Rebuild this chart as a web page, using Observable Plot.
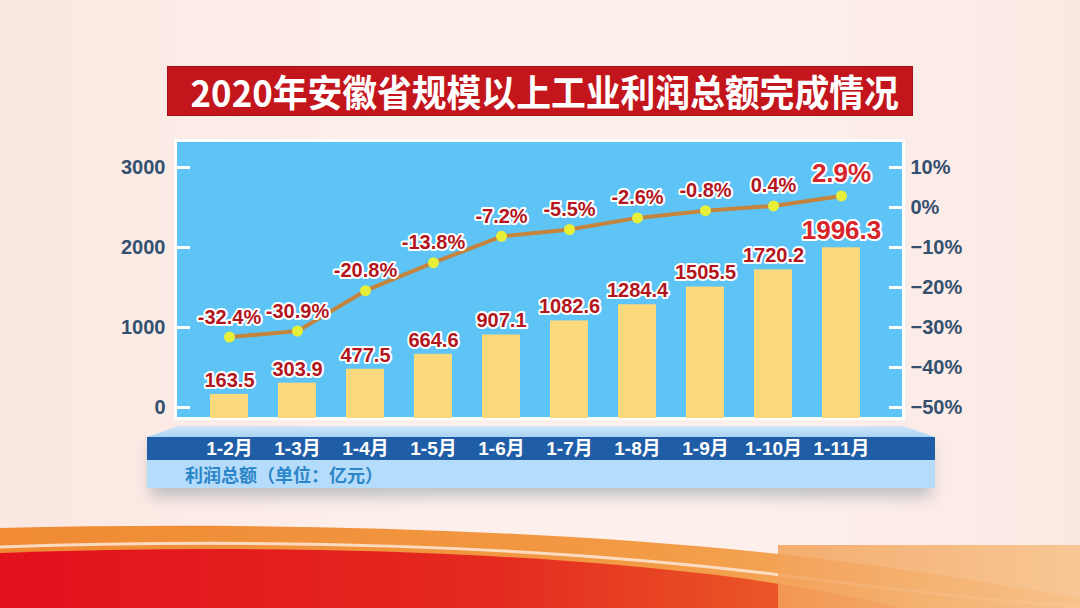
<!DOCTYPE html>
<html>
<head>
<meta charset="utf-8">
<script src="https://cdn.jsdelivr.net/npm/d3@7"></script>
<script src="https://cdn.jsdelivr.net/npm/@observablehq/plot@0.6"></script>
<style>
  html, body { margin: 0; padding: 0; }
  body { width: 1080px; height: 608px; overflow: hidden; }
  #stage { position: relative; width: 1080px; height: 608px;
    background: linear-gradient(90deg, #fbe7e1 0%, #fdf0ec 40%, #fdf0ec 70%, #fbe8e3 100%);
    font-family: "Liberation Sans", "Noto Sans CJK SC", sans-serif; }
  #wave { position: absolute; left: 0; top: 0; }
  #title { position: absolute; left: 168px; top: 67px; width: 744px; height: 48px;
    background: #c3151c; box-shadow: 0 0 0 1px #a80f15; text-align: center; }
  #title span { display: inline-block; color: white; font-family: "Noto Sans CJK SC", sans-serif;
    font-weight: bold; font-size: 37px; line-height: 48px; white-space: nowrap;
    transform: scaleX(0.94); transform-origin: center; }
  #band { position: absolute; left: 147px; top: 426px; width: 788px; height: 62px;
    box-shadow: 0 12px 14px -4px rgba(70,100,120,0.35); }
  #bandTop { position: absolute; left: 0; top: 0; width: 788px; height: 11px;
    background: linear-gradient(180deg, #cfe6fa, #a9d3f5);
    clip-path: polygon(4% 0, 96% 0, 100% 100%, 0 100%); }
  #bandDark { position: absolute; left: 0; top: 11px; width: 788px; height: 23px; background: #1f5ea6; }
  #bandLight { position: absolute; left: 0; top: 34px; width: 788px; height: 28px; background: #b5dcfa; }
  #unit { position: absolute; left: 38px; top: 37px; font-family: "Noto Sans CJK SC", sans-serif;
    font-weight: bold; font-size: 18px; color: #2b86c8; line-height: 22px; white-space: nowrap; }
  #chart { position: absolute; left: 0; top: 0; }
</style>
</head>
<body>
<div id="stage">
  <svg id="wave" width="1080" height="608">
    <defs>
      <linearGradient id="gOrange" x1="0" x2="1" y1="0" y2="0">
        <stop offset="0" stop-color="#f08a34"/>
        <stop offset="0.6" stop-color="#f29a44"/>
        <stop offset="1" stop-color="#f6b977"/>
      </linearGradient>
      <linearGradient id="gRed" x1="0" x2="1" y1="0" y2="0">
        <stop offset="0" stop-color="#e2101c"/>
        <stop offset="0.55" stop-color="#e42a1f"/>
        <stop offset="1" stop-color="#ec6a2a"/>
      </linearGradient>
      <linearGradient id="gPeach" x1="0" x2="1" y1="0" y2="0">
        <stop offset="0" stop-color="#f3a25a" stop-opacity="0.85"/>
        <stop offset="1" stop-color="#f7c38c" stop-opacity="0.9"/>
      </linearGradient>
    </defs>
    <path d="M0,528 C250,522 520,528 760,552 C900,566 1000,585 1080,598 L1080,608 L0,608 Z" fill="url(#gOrange)"/>
    <path d="M0,547 C260,538 540,545 780,575 C900,590 1000,602 1080,606" fill="none" stroke="#fde3cf" stroke-width="3" opacity="0.9"/>
    <path d="M0,553 C260,544 520,550 740,578 C820,590 870,600 900,608 L0,608 Z" fill="url(#gRed)"/>
    <rect x="778" y="545" width="302" height="63" fill="url(#gPeach)"/>
  </svg>
  <div id="title"><span>2020年安徽省规模以上工业利润总额完成情况</span></div>
  <div id="band">
    <div id="bandTop"></div>
    <div id="bandDark"></div>
    <div id="bandLight"></div>
    <div id="unit">利润总额（单位：亿元）</div>
  </div>
  <div id="chart"></div>
</div>
<script>
const categories = ["1-2月", "1-3月", "1-4月", "1-5月", "1-6月", "1-7月", "1-8月", "1-9月", "1-10月", "1-11月"];
const profit = [163.5, 303.9, 477.5, 664.6, 907.1, 1082.6, 1284.4, 1505.5, 1720.2, 1996.3];
const growth = [-32.4, -30.9, -20.8, -13.8, -7.2, -5.5, -2.6, -0.8, 0.4, 2.9];
const leftTicks = [0, 1000, 2000, 3000];
const rightTicks = [10, 0, -10, -20, -30, -40, -50];

// right axis (-50%..10%) shares the left scale (0..3000)
const pctToLeft = p => (p + 50) * 50;
const leftToPct = v => v / 50 - 50;

const data = categories.map((c, i) => ({cat: c, v: profit[i], g: growth[i], last: i === categories.length - 1}));
const yMin = -137.5, yMax = 3337.5;
const fmtPct = p => (p < 0 ? "-" + Math.abs(p).toFixed(1) : p.toFixed(1)) + "%";
const fmtTick = p => (p < 0 ? "−" + Math.abs(p) : String(p)) + "%";

const labelRed = "#b3151d";
const bigRed = "#d7242a";
const font = "'Liberation Sans', 'Noto Sans CJK SC', sans-serif";

const chart = Plot.plot({
  width: 1080,
  height: 608,
  marginLeft: 175,
  marginRight: 177,
  marginTop: 140,
  marginBottom: 190,
  style: {background: "transparent", fontFamily: font, overflow: "visible"},
  x: {domain: categories, range: [179.5, 891.5], padding: 0.44},
  y: {domain: [yMin, yMax]},
  marks: [
    Plot.frame({fill: "#5ec4f5", stroke: "white", strokeWidth: 3}),
    Plot.rectY(data, {x: "cat", y1: yMin, y2: "v", fill: "#fcd97c"}),
    Plot.axisY({anchor: "left", ticks: leftTicks, tickFormat: d => String(d), tickSize: 15, dx: 15, tickPadding: 10,
      stroke: "white", strokeWidth: 3, fill: "#34506f", fontSize: 20, fontWeight: "bold", label: null}),
    Plot.axisY({anchor: "right", ticks: rightTicks.map(pctToLeft), tickSize: 15, dx: -15, tickPadding: 7,
      tickFormat: d => fmtTick(leftToPct(d)),
      stroke: "white", strokeWidth: 3, fill: "#34506f", fontSize: 20, fontWeight: "bold", label: null}),
    Plot.axisX({anchor: "bottom", tickSize: 0, tickPadding: 23, fill: "white", fontSize: 19, fontWeight: "bold", label: null}),
    Plot.line(data, {x: "cat", y: d => pctToLeft(d.g), stroke: "#c4843d", strokeWidth: 4}),
    Plot.dot(data, {x: "cat", y: d => pctToLeft(d.g), r: 5.5, fill: "#e8ef38", stroke: "none"}),
    Plot.text(data.filter(d => !d.last), {x: "cat", y: "v", text: d => d.v.toFixed(1), dy: -14,
      fill: labelRed, stroke: "white", strokeWidth: 4, paintOrder: "stroke", fontSize: 20, fontWeight: "bold"}),
    Plot.text(data.filter(d => d.last), {x: "cat", y: "v", text: d => d.v.toFixed(1), dy: -17,
      fill: bigRed, stroke: "white", strokeWidth: 4, paintOrder: "stroke", fontSize: 26, fontWeight: "bold"}),
    Plot.text(data.filter(d => !d.last), {x: "cat", y: d => pctToLeft(d.g), text: d => fmtPct(d.g), dy: -20,
      fill: labelRed, stroke: "white", strokeWidth: 4, paintOrder: "stroke", fontSize: 20, fontWeight: "bold"}),
    Plot.text(data.filter(d => d.last), {x: "cat", y: d => pctToLeft(d.g), text: d => fmtPct(d.g), dy: -22,
      fill: bigRed, stroke: "white", strokeWidth: 4, paintOrder: "stroke", fontSize: 26, fontWeight: "bold"})
  ]
});
document.getElementById("chart").appendChild(chart);
</script>
</body>
</html>
